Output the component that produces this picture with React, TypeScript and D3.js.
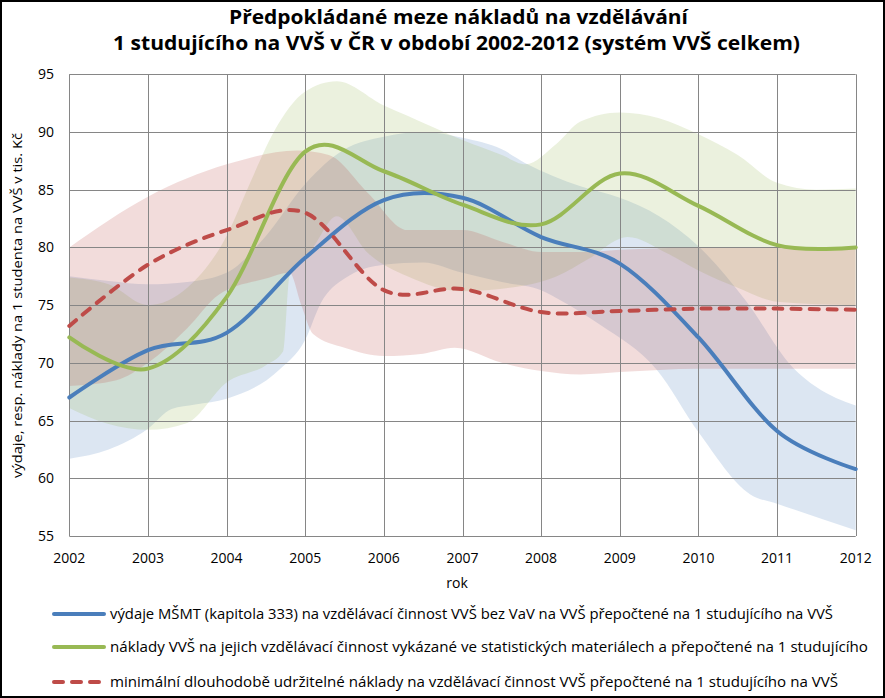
import React from "react";
import * as d3 from "d3";

const years = [2002, 2003, 2004, 2005, 2006, 2007, 2008, 2009, 2010, 2011, 2012];
const yTicks = [55, 60, 65, 70, 75, 80, 85, 90, 95];

const blueSeries = [67.0, 71.1, 72.6, 79.1, 84.1, 84.3, 80.9, 78.6, 72.2, 64.1, 60.8];
const greenSeries = [72.2, 69.5, 75.7, 88.3, 86.6, 83.7, 82.0, 86.4, 83.6, 80.2, 80.0];
const redSeries = [73.2, 78.5, 81.5, 83.0, 76.3, 76.4, 74.4, 74.5, 74.7, 74.7, 74.6];

const blueUpper: [number, number][] = [[2002,77.5],[2002.5,77.1],[2003,76.8],[2003.5,77],[2004,77.8],[2004.5,81],[2005,85.5],[2005.5,88.5],[2006,89.6],[2006.5,90],[2007,89.5],[2007.5,88.5],[2007.8,87.3],[2008.5,85.3],[2009,84.3],[2009.5,82.7],[2010,80.1],[2010.6,75.4],[2011.2,69.6],[2011.5,67.9],[2012,66.3]];
const blueLower: [number, number][] = [[2002,61.7],[2002.5,62.5],[2003,64.3],[2003.3,66],[2003.6,66.4],[2004,66.9],[2004.67,69.4],[2005,72],[2005.2,75.2],[2005.5,77.3],[2006,78.5],[2006.5,78.7],[2007,77.8],[2007.5,77],[2008,76.3],[2008.25,75.4],[2008.75,73.3],[2009.47,69.4],[2010,64],[2010.66,58.6],[2011,57.8],[2012,55.5]];

const greenUpper: [number, number][] = [[2002,77.4],[2002.5,76.8],[2003,75],[2003.5,76.5],[2004,81],[2004.3,85.6],[2004.6,90],[2005,93.5],[2005.4,94.4],[2006,92.3],[2006.3,91.4],[2007,89.3],[2007.5,88],[2007.8,87.2],[2008.2,89],[2008.5,90.9],[2009,91.7],[2009.5,91.2],[2010,89.8],[2010.5,88],[2011,85.6],[2011.5,85],[2012,85.1]];
const greenLower: [number, number][] = [[2002,66.1],[2002.5,64.7],[2003,64.2],[2003.5,64.8],[2004,68.3],[2004.5,69.8],[2004.72,71],[2004.8,77.5],[2005.1,80],[2005.4,82.7],[2005.8,79.5],[2006.3,77.5],[2007,76.2],[2007.6,76.5],[2008.2,77.5],[2008.6,79],[2009.1,80.9],[2009.6,79.5],[2010,78],[2010.5,76.5],[2011,75.3],[2012,75]];

const redUpper: [number, number][] = [[2002,80],[2003,84.4],[2004,87.2],[2004.9,88.4],[2005.3,88],[2005.8,84.7],[2006.3,81.5],[2007,81.5],[2007.5,80.5],[2008,79.6],[2008.5,79.6],[2009,79.8],[2010,80],[2011,80],[2012,80]];
const redLower: [number, number][] = [[2002,68],[2002.6,68.5],[2003,70],[2003.5,73],[2003.9,75.9],[2004.5,77.3],[2004.8,77.8],[2004.95,75],[2005.1,72.5],[2005.5,71.3],[2006,70.6],[2006.5,70.8],[2006.9,71.3],[2007.5,70],[2008,69.3],[2008.5,69],[2009,69.2],[2010,69.5],[2012,69.5]];

const titleLines = [
  "Předpokládané  meze nákladů  na vzdělávání",
  "1 studujícího  na VVŠ v ČR v období  2002-2012 (systém VVŠ celkem)",
];
const yAxisTitle = "výdaje, resp. náklady na 1 studenta na VVŠ v tis. Kč";
const xAxisTitle = "rok";
const legendLabels = [
  "výdaje MŠMT (kapitola 333) na vzdělávací činnost VVŠ bez VaV na VVŠ přepočtené na 1 studujícího na VVŠ",
  "náklady VVŠ na jejich vzdělávací činnost vykázané ve statistických materiálech a přepočtené na 1 studujícího",
  "minimální dlouhodobě udržitelné náklady na vzdělávací činnost VVŠ přepočtené na 1 studujícího na VVŠ",
];

const BLUE = "#4A7EBB";
const GREEN = "#98B954";
const RED = "#BE4B48";
const FONT = "'Open Sans', 'DejaVu Sans', sans-serif";

export default function App() {
  const W = 885, H = 698;
  const x = d3.scaleLinear().domain([2002, 2012]).range([69.3, 855.7]);
  const y = d3.scaleLinear().domain([55, 95]).range([536, 74.3]);

  const seriesLine = d3.line<number>()
    .x((_, i) => x(years[i]))
    .y((d) => y(d))
    .curve(d3.curveCardinal.tension(0));

  const bandLine = d3.line<[number, number]>()
    .x((d) => x(d[0]))
    .y((d) => y(d[1]))
    .curve(d3.curveMonotoneX);

  const bandPath = (up: [number, number][], lo: [number, number][]) => {
    const a = bandLine(up) as string;
    const bRev = d3.line<[number, number]>()
      .x((d) => x(d[0]))
      .y((d) => y(d[1]))
      .curve(d3.curveMonotoneX)(lo) as string;
    // build reverse lower path by drawing lower reversed
    const rev = [...lo].reverse();
    const b = d3.line<[number, number]>()
      .x((d) => x(d[0]))
      .y((d) => y(d[1]))
      .curve(d3.curveMonotoneX)(rev) as string;
    void bRev;
    return a + "L" + b.slice(1) + "Z";
  };

  const x0 = x(2002), x1 = x(2012), yTop = y(95), yBot = y(55);
  const grid = "#868686";

  return (
    <svg width={W} height={H} style={{ position: "absolute", left: 0, top: 0, background: "#fff" }} fontFamily={FONT}>
      <rect x={0} y={0} width={W} height={H} fill="#fff" />
      {/* bands */}
      <path d={bandPath(blueUpper, blueLower)} fill="#4F81BD" fillOpacity={0.2} />
      <path d={bandPath(greenUpper, greenLower)} fill="#9BBB59" fillOpacity={0.2} />
      <path d={bandPath(redUpper, redLower)} fill="#C0504D" fillOpacity={0.2} />

      {/* gridlines */}
      {years.map((yr) => (
        <line key={"v" + yr} x1={Math.round(x(yr)) + 0.5} x2={Math.round(x(yr)) + 0.5} y1={yTop} y2={yBot} stroke={grid} strokeWidth={1} />
      ))}
      {yTicks.map((t) => (
        <line key={"h" + t} x1={x0} x2={x1} y1={Math.round(y(t)) + 0.5} y2={Math.round(y(t)) + 0.5} stroke={grid} strokeWidth={1} />
      ))}

      {/* series */}
      <path d={seriesLine(blueSeries) as string} fill="none" stroke={BLUE} strokeWidth={4} strokeLinecap="round" />
      <path d={seriesLine(greenSeries) as string} fill="none" stroke={GREEN} strokeWidth={4} strokeLinecap="round" />
      <path d={seriesLine(redSeries) as string} fill="none" stroke={RED} strokeWidth={4} strokeDasharray="9 9" strokeLinecap="round" />

      {/* y tick labels */}
      {yTicks.map((t) => (
        <text key={"yl" + t} x={54} y={y(t)} dy="0.36em" textAnchor="end" fontSize={14} fill="#000">{t}</text>
      ))}
      {/* x tick labels */}
      {years.map((yr) => (
        <text key={"xl" + yr} x={x(yr)} y={563} textAnchor="middle" fontSize={14} fill="#000">{yr}</text>
      ))}
      <text x={457} y={588} textAnchor="middle" fontSize={14} fill="#000">{xAxisTitle}</text>
      <text transform={`translate(22,305.5) rotate(-90)`} textAnchor="middle" fontSize={13} fill="#000" textLength={345} lengthAdjust="spacingAndGlyphs">{yAxisTitle}</text>

      {/* title */}
      <text x={458.5} y={24} textAnchor="middle" fontSize={19} fontWeight="bold" fill="#000" textLength={459} lengthAdjust="spacingAndGlyphs">{titleLines[0]}</text>
      <text x={456.5} y={50} textAnchor="middle" fontSize={19} fontWeight="bold" fill="#000" textLength={687} lengthAdjust="spacingAndGlyphs">{titleLines[1]}</text>

      {/* legend */}
      {[BLUE, GREEN, RED].map((c, i) => {
        const ly = [614, 647, 682][i];
        const ends = [833, 868, 838];
        return (
          <g key={"lg" + i}>
            <line x1={54} x2={104} y1={ly} y2={ly} stroke={c} strokeWidth={4} strokeLinecap="round" strokeDasharray={i === 2 ? "9 9" : undefined} />
            <text x={110} y={ly} dy="0.36em" fontSize={14} fill="#000" textLength={ends[i] - 110} lengthAdjust="spacingAndGlyphs">{legendLabels[i]}</text>
          </g>
        );
      })}

      <rect x={1} y={1} width={W - 2} height={H - 2} fill="none" stroke="#000" strokeWidth={2} />
    </svg>
  );
}
